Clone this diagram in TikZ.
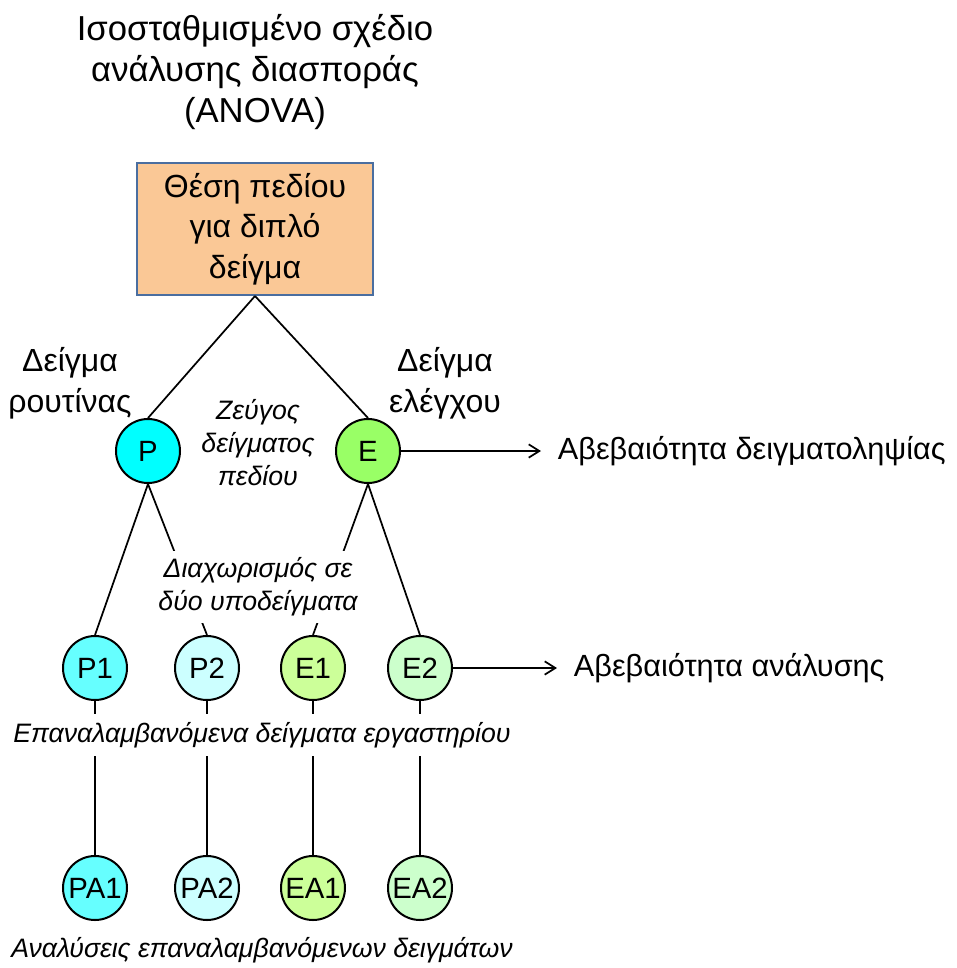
\documentclass[tikz,border=0pt]{standalone}
\usepackage{fontspec}
\setmainfont{Liberation Sans}
\usetikzlibrary{arrows.meta}
\tikzset{every picture/.style={line width=0.75pt}}
\definecolor{boxfill}{RGB}{250,200,150}
\definecolor{boxdraw}{RGB}{74,110,160}
\definecolor{routine}{RGB}{0,255,255}
\definecolor{control}{RGB}{153,255,102}
\definecolor{routineA}{RGB}{102,255,255}
\definecolor{routineB}{RGB}{204,255,255}
\definecolor{controlA}{RGB}{204,255,153}
\definecolor{controlB}{RGB}{204,255,204}
\tikzset{
  smp/.style={circle, draw, line width=1.5pt, minimum size=48pt, inner sep=0pt, font=\fontsize{22}{24}\selectfont},
  lbl/.style={align=center, font=\fontsize{24}{30.5}\selectfont},
  unclbl/.style={anchor=west, font=\fontsize{23}{28}\selectfont},
  note/.style={align=center, font=\itshape\fontsize{20}{24.75}\selectfont},
  link/.style={line width=1.3pt},
  unc/.style={link, -{Straight Barb[length=8pt,width=10pt]}, shorten >=9pt},
}

\begin{document}
\begin{tikzpicture}[x=0.75pt,y=0.75pt,yscale=-1,xscale=1]
\useasboundingbox (0,0) rectangle (957,968);

% Text Node
\node (title) [lbl, font=\fontsize{26}{30.75}\selectfont] at (255,72) {Ισοσταθμισμένο σχέδιο\\ανάλυσης διασποράς\\(ANOVA)};
%Shape: Rectangle
\node (site) [lbl, draw=boxdraw, fill=boxfill, line width=1.5pt, minimum width=177pt, minimum height=99pt] at (255,229) {Θέση πεδίου\\για διπλό\\δείγμα};

%Shape: Circle
\node (P) [smp, fill=routine] at (148,451) {P};
\node (E) [smp, fill=control] at (368,451) {E};
\node (P1) [smp, fill=routineA] at (95,668) {P1};
\node (P2) [smp, fill=routineB] at (207,668) {P2};
\node (E1) [smp, fill=controlA] at (313,668) {E1};
\node (E2) [smp, fill=controlB] at (420,668) {E2};
\node (PA1) [smp, fill=routineA] at (95,888) {PA1};
\node (PA2) [smp, fill=routineB] at (207,888) {PA2};
\node (EA1) [smp, fill=controlA] at (313,888) {EA1};
\node (EA2) [smp, fill=controlB] at (420,888) {EA2};

% Text Node
\node (routinelbl) [lbl] at (70,383) {Δείγμα\\ρουτίνας};
\node (controllbl) [lbl] at (445,383) {Δείγμα\\ελέγχου};
\node (pair) [note] at (258,443) {Ζεύγος\\δείγματος\\πεδίου};
\node (sampunc) [unclbl] at (553,451) {Αβεβαιότητα δειγματοληψίας};
\node (anaunc) [unclbl] at (569,668) {Αβεβαιότητα ανάλυσης};

%Straight Lines
\draw [link] (site.south) -- (P.north);
\draw [link] (site.south) -- (E.north);
\draw [link] (P.south) -- (P1.north);
\draw [link] (P.south) -- (P2.north);
\draw [link] (E.south) -- (E1.north);
\draw [link] (E.south) -- (E2.north);
\draw [link] (P1) -- (PA1);
\draw [link] (P2) -- (PA2);
\draw [link] (E1) -- (EA1);
\draw [link] (E2) -- (EA2);
\draw [unc] (E) -- (sampunc.west);
\draw [unc] (E2) -- (anaunc.west);

% Text Node
\node (split) [note, fill=white, inner ysep=5pt] at (258,587) {Διαχωρισμός σε\\δύο υποδείγματα};
\node (rep) [note, fill=white, inner ysep=6pt] at (262,735) {Επαναλαμβανόμενα δείγματα εργαστηρίου};
\node (ana) [note] at (262,950) {Αναλύσεις επαναλαμβανόμενων δειγμάτων};

\end{tikzpicture}
\end{document}
